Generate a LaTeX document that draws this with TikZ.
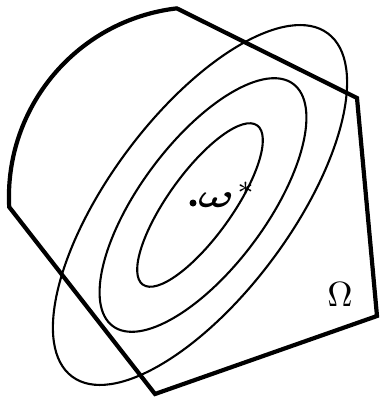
\documentclass[tikz,border=0pt]{standalone}
\usepackage{graphicx}
\tikzset{
  region/.style={line width=4.2pt, line join=miter},
  level/.style={line width=2.1pt},
  lbl/.style={inner sep=0pt}
}
\begin{document}
\begin{tikzpicture}[x=1pt,y=1pt,yscale=-1]
\useasboundingbox (0,0) rectangle (380,400);
% level sets (rotated ellipses)
\draw[level, rotate around={-53.3:(200,205)}] (200,205) ellipse[x radius=214, y radius=90.6];
\draw[level, rotate around={-53.3:(203,205)}] (203,205) ellipse[x radius=151, y radius=63];
\draw[level, rotate around={-54.3:(200,205)}] (200,205) ellipse[x radius=98, y radius=32];
% feasible region Omega
\coordinate (lv) at (9.2,207);
\coordinate (rv) at (357,98);
\coordinate (cv) at (377,316);
\coordinate (bv) at (155,394);
\draw[region] (lv) arc[start angle=177, end angle=263.3, radius=190] -- (rv) -- (cv) -- (bv) -- cycle;
% optimum
\node[circle, fill=black, inner sep=0pt, minimum size=7pt] (dot) at (193,203) {};
\node[lbl, anchor=base west] (w) at (198,207) {\scalebox{3.3}{$\scalebox{1.45}[1]{\boldmath$\omega$}^{\mkern2mu\scalebox{1.25}{$\scriptstyle *$}}$}};
\node[lbl] (om) at (340,295) {\scalebox{3.5}{$\Omega$}};
\end{tikzpicture}
\end{document}
